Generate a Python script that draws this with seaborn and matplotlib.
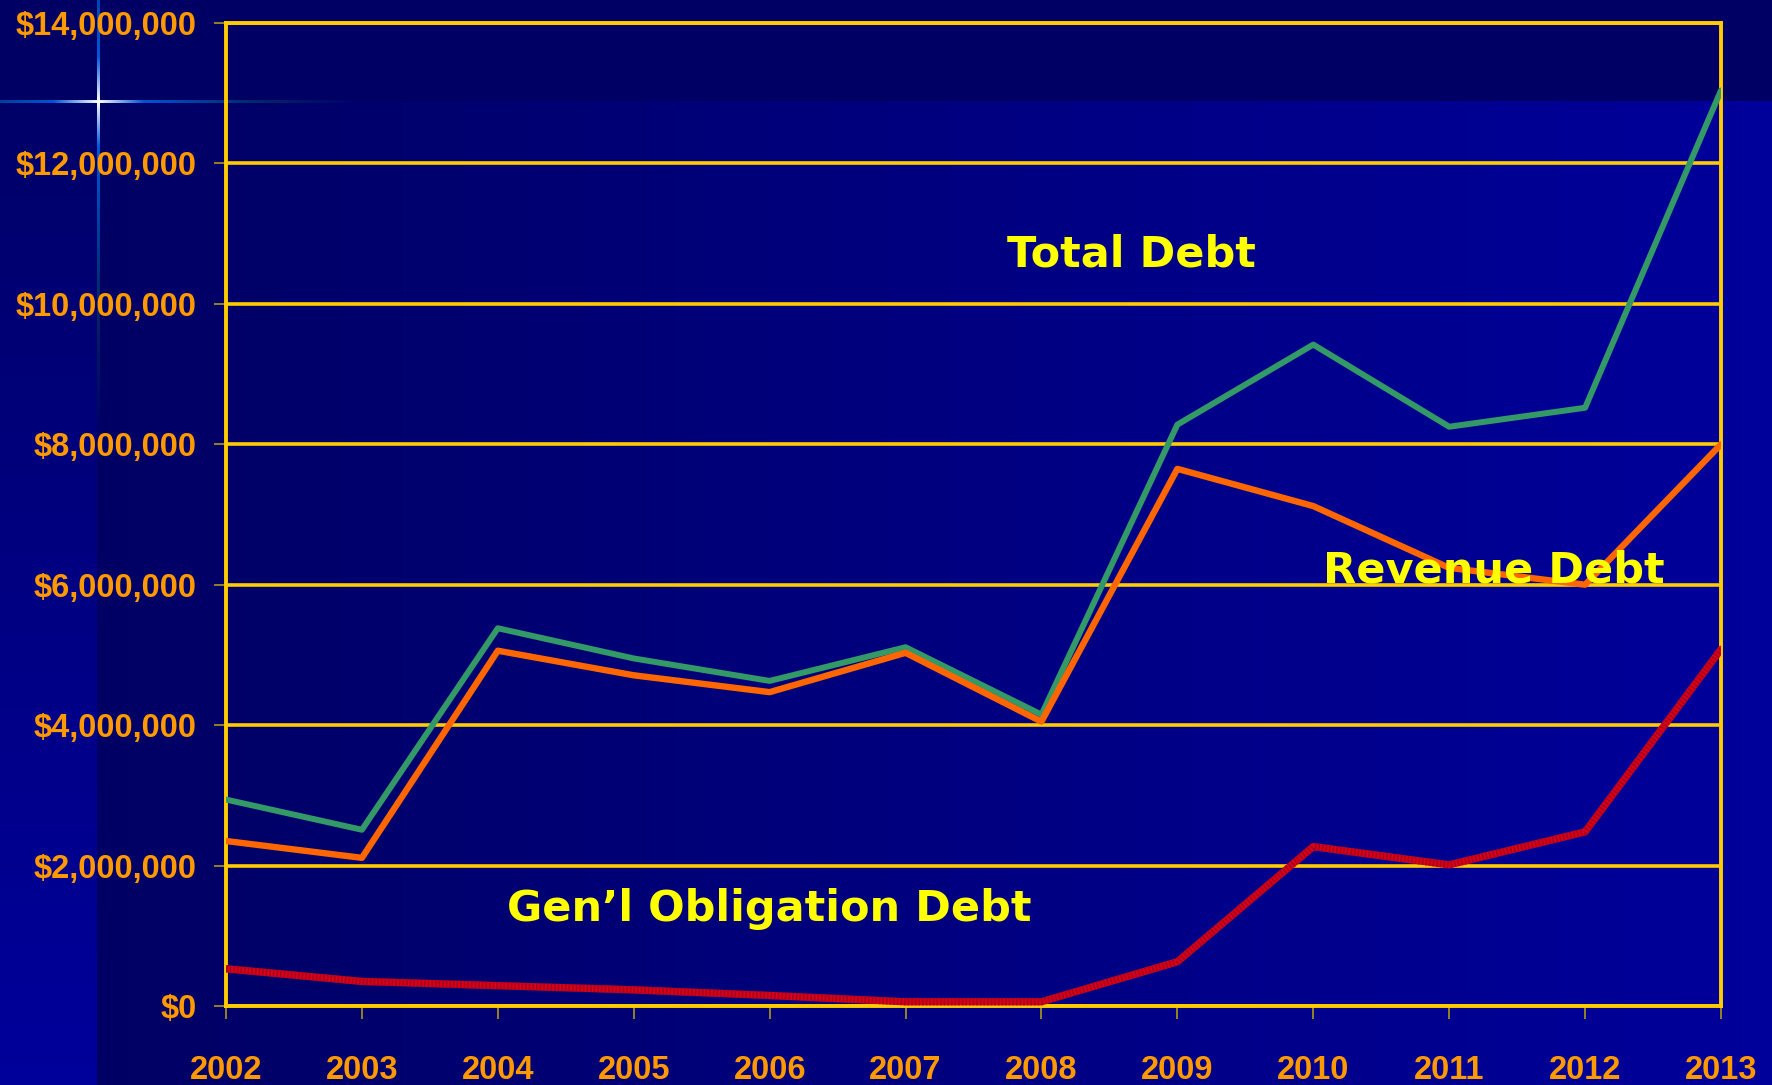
import numpy as np
import pandas as pd
import matplotlib
matplotlib.use('Agg')
import matplotlib.pyplot as plt
import seaborn as sns
from matplotlib.ticker import FuncFormatter

# data
years = [2002, 2003, 2004, 2005, 2006, 2007, 2008, 2009, 2010, 2011, 2012, 2013]
total_debt = [2.94, 2.51, 5.38, 4.95, 4.63, 5.11, 4.15, 8.28, 9.42, 8.25, 8.52, 13.04]
revenue_debt = [2.35, 2.11, 5.06, 4.71, 4.47, 5.03, 4.05, 7.65, 7.12, 6.24, 6.00, 8.00]
go_debt = [0.53, 0.35, 0.29, 0.23, 0.15, 0.06, 0.06, 0.63, 2.27, 2.01, 2.48, 5.08]

df = pd.DataFrame({
    'year': years,
    'Total Debt': np.array(total_debt) * 1e6,
    'Revenue Debt': np.array(revenue_debt) * 1e6,
    "Gen'l Obligation Debt": np.array(go_debt) * 1e6,
})

sns.set_theme(style='white')
plt.rcParams['font.family'] = ['Liberation Sans', 'DejaVu Sans']

W, H = 1772, 1085
fig = plt.figure(figsize=(W / 100, H / 100), dpi=100)
fig.patch.set_facecolor('#000066')

# background: slide-style gradients plus the little sparkle
bg = np.zeros((H, W, 3))
bg[..., 2] = 102 / 255
xs = np.linspace(0, 1, W - 97)
bg[101:, 97:, 2] = ((100 + 55 * xs) / 255)[None, :]
ys = np.linspace(0, 1, H)
bg[:, :97, 2] = ((100 + 55 * ys) / 255)[:, None]
bg[:101, :, 2] = 100 / 255
cx, cy = 98, 101
for i in range(0, 260):
    fade = max(0.0, 1 - i / 260)
    core = max(0.0, 1 - i / 45)
    col = np.clip(np.array([core, 0.4 * fade + 0.6 * core, fade]), 0, 1)
    for x in (cx - i, cx + i):
        if 0 <= x < W:
            bg[cy - 1:cy + 2, x] = np.maximum(bg[cy - 1:cy + 2, x], col)
for j in range(-101, 330):
    d = abs(j)
    fade = max(0.0, 1 - d / 330)
    core = max(0.0, 1 - d / 45)
    col = np.clip(np.array([core, 0.4 * fade + 0.6 * core, fade]), 0, 1)
    y = cy + j
    if 0 <= y < H:
        bg[y, cx - 1:cx + 2] = np.maximum(bg[y, cx - 1:cx + 2], col)
fig.figimage(bg, xo=0, yo=0, origin='upper', zorder=-10)

ax = fig.add_axes([226 / W, 1 - 1006 / H, (1721 - 226) / W, (1006 - 23) / H])
ax.set_facecolor('none')
ax.set_zorder(5)

gold = '#FFCC00'
ax.set_xlim(2002, 2013)
ax.set_ylim(0, 14e6)
ax.set_yticks(np.arange(0, 14e6 + 1, 2e6))
ax.set_xticks(years)
ax.grid(axis='y', color=gold, lw=2.6, zorder=1)
ax.grid(axis='x', visible=False)
for s in ax.spines.values():
    s.set_color(gold)
    s.set_linewidth(2.8)
    s.set_zorder(1)

sns.lineplot(data=df, x='year', y='Total Debt', color='#339966', lw=4.3, ax=ax, zorder=3)
sns.lineplot(data=df, x='year', y='Revenue Debt', color='#FF6600', lw=4.6, ax=ax, zorder=4)
sns.lineplot(data=df, x='year', y="Gen'l Obligation Debt", color='#DD0011', lw=5.2, ax=ax, zorder=5)
sns.lineplot(data=df, x='year', y="Gen'l Obligation Debt", color='#AA0022', lw=5.2, ax=ax, zorder=5,
             dashes=[(0.25, 0.25)], style=[0] * len(years), legend=False)

ax.yaxis.set_major_formatter(FuncFormatter(lambda v, p: f'${v:,.0f}'))
ax.set_xlabel('')
ax.set_ylabel('')
ax.tick_params(axis='y', colors='#FF9900', length=9, width=1.3, pad=12, labelsize=23.5, left=True)
ax.tick_params(axis='x', colors='#FF9900', length=9, width=1.3, pad=26, labelsize=23.5, bottom=True)
for t in ax.get_xticklabels() + ax.get_yticklabels():
    t.set_fontweight('bold')
ax.tick_params(color='#A08C20')

txt = dict(color='#FFFF00', fontsize=31, fontweight='bold', family='DejaVu Sans',
           ha='center', va='center', zorder=6)
ax.text(2008.66, 10.7e6, 'Total Debt', **txt)
ax.text(2011.33, 6.2e6, 'Revenue Debt', **txt)
ax.text(2006.0, 1.38e6, 'Gen\u2019l Obligation Debt', **txt)

fig.savefig('out.png', dpi=100, facecolor=fig.get_facecolor())
